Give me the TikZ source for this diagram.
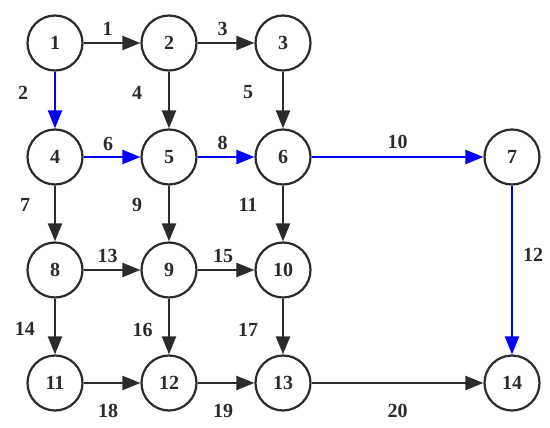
\documentclass[tikz,border=0pt]{standalone}
\usepackage{fontspec}
\setmainfont{Liberation Serif}
\usetikzlibrary{arrows.meta}
\definecolor{dk}{HTML}{2B2B2B}
\definecolor{bl}{HTML}{0000FF}
\begin{document}
\begin{tikzpicture}[x=1pt,y=-1pt,
  vtx/.style={circle,draw=dk,line width=2.2pt,minimum size=55pt,inner sep=0pt,text=dk,font=\fontsize{20}{22}\selectfont\bfseries},
  edge/.style={draw=dk,line width=2.2pt,-{Triangle[length=18pt,width=14pt]}},
  hot/.style={edge,draw=bl,-{Triangle[length=18pt,width=14pt,color=bl]}},
  lab/.style={text=dk,font=\fontsize{20}{22}\selectfont\bfseries,inner sep=0pt}]
\useasboundingbox (0,0) rectangle (550,428);
\node[vtx] (n1) at (55,43) {1};
\node[vtx] (n2) at (169,43) {2};
\node[vtx] (n3) at (283,43) {3};
\node[vtx] (n4) at (55,157) {4};
\node[vtx] (n5) at (169,157) {5};
\node[vtx] (n6) at (283,157) {6};
\node[vtx] (n7) at (512,157) {7};
\node[vtx] (n8) at (55,270) {8};
\node[vtx] (n9) at (169,270) {9};
\node[vtx] (n10) at (283,270) {10};
\node[vtx] (n11) at (55,383) {11};
\node[vtx] (n12) at (169,383) {12};
\node[vtx] (n13) at (283,383) {13};
\node[vtx] (n14) at (512,383) {14};
% row 1
\draw[edge] (n1) -- (n2) node[lab,midway,xshift=-4.5pt,yshift=14pt] {1};
\draw[edge] (n2) -- (n3) node[lab,midway,xshift=-3.5pt,yshift=14pt] {3};
\draw[hot] (n1) -- (n4) node[lab,midway,xshift=-32pt,yshift=7.5pt] {2};
\draw[edge] (n2) -- (n5) node[lab,midway,xshift=-32pt,yshift=7.5pt] {4};
\draw[edge] (n3) -- (n6) node[lab,midway,xshift=-35pt,yshift=7.5pt] {5};
% row 2
\draw[hot] (n4) -- (n5) node[lab,midway,xshift=-4pt,yshift=13.5pt] {6};
\draw[hot] (n5) -- (n6) node[lab,midway,xshift=-3.5pt,yshift=14pt] {8};
\draw[hot] (n6) -- (n7) node[lab,midway,xshift=0pt,yshift=15pt] {10};
\draw[edge] (n4) -- (n8) node[lab,midway,xshift=-30pt,yshift=8.5pt] {7};
\draw[edge] (n5) -- (n9) node[lab,midway,xshift=-32pt,yshift=8.5pt] {9};
\draw[edge] (n6) -- (n10) node[lab,midway,xshift=-35pt,yshift=8.5pt] {11};
\draw[hot] (n7) -- (n14) node[lab,midway,xshift=21pt,yshift=15.5pt] {12};
% row 3
\draw[edge] (n8) -- (n9) node[lab,midway,xshift=-4.5pt,yshift=14.5pt] {13};
\draw[edge] (n9) -- (n10) node[lab,midway,xshift=-3pt,yshift=14.5pt] {15};
\draw[edge] (n8) -- (n11) node[lab,midway,xshift=-30pt,yshift=-2.5pt] {14};
\draw[edge] (n9) -- (n12) node[lab,midway,xshift=-26.5pt,yshift=-3.5pt] {16};
\draw[edge] (n10) -- (n13) node[lab,midway,xshift=-35pt,yshift=-3.5pt] {17};
% row 4
\draw[edge] (n11) -- (n12) node[lab,midway,xshift=-4pt,yshift=-28pt] {18};
\draw[edge] (n12) -- (n13) node[lab,midway,xshift=-3pt,yshift=-28pt] {19};
\draw[edge] (n13) -- (n14) node[lab,midway,xshift=0pt,yshift=-28pt] {20};
\end{tikzpicture}
\end{document}
